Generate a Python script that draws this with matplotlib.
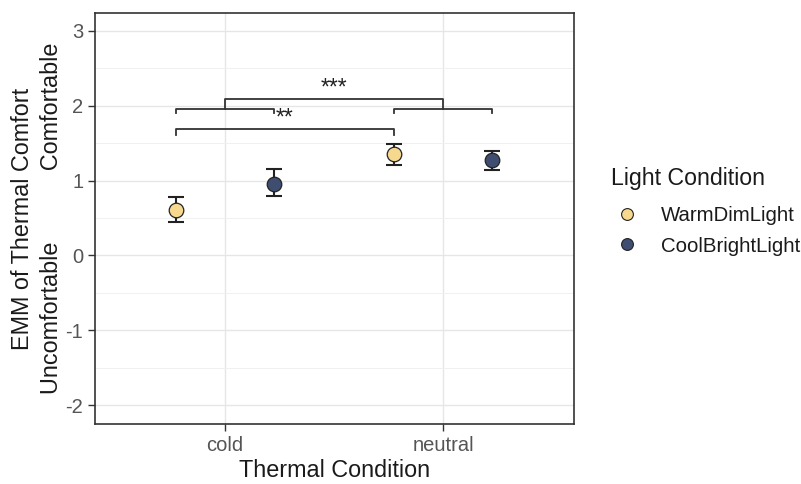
import matplotlib
matplotlib.use("Agg")
import matplotlib.pyplot as plt
from matplotlib.lines import Line2D
import numpy as np

plt.rcParams['font.family'] = ['Liberation Sans', 'DejaVu Sans']
plt.rcParams['axes.unicode_minus'] = False

# ---- data ----
categories = ["cold", "neutral"]
light_conditions = ["WarmDimLight", "CoolBrightLight"]
emm_warm = [0.61, 1.36]
lower_warm = [0.44, 1.21]
upper_warm = [0.78, 1.49]
emm_cool = [0.96, 1.27]
lower_cool = [0.80, 1.14]
upper_cool = [1.15, 1.40]
yticks = [-2, -1, 0, 1, 2, 3]

# significance brackets: (x_start, x_end, y_bar, y_tip, label)
sig_small_bars = [(0.775, 1.225, 1.96, 1.90), (1.775, 2.225, 1.96, 1.90)]
sig_top = (1.0, 2.0, 2.09, 1.96, "***")
sig_low = (0.775, 1.775, 1.69, 1.61, "**")

col_warm = "#F6D98E"
col_cool = "#3F4E70"

fig = plt.figure(figsize=(8.01, 4.84), dpi=100)
ax = fig.add_axes([95/801, 1 - 424/484, (574-95)/801, (424-13.5)/484])

x = np.arange(1, len(categories) + 1)
dodge = 0.225

for vals, lo, hi, col, off in [(emm_warm, lower_warm, upper_warm, col_warm, -dodge),
                               (emm_cool, lower_cool, upper_cool, col_cool, dodge)]:
    vals = np.array(vals); lo = np.array(lo); hi = np.array(hi)
    ax.errorbar(x + off, vals, yerr=[vals - lo, hi - vals], fmt='none',
                ecolor='#222222', elinewidth=1.5, capsize=5.6, capthick=1.5, zorder=3)
    ax.plot(x + off, vals, 'o', ms=10.5, mfc=col, mec='#222222', mew=0.9, zorder=4)

# brackets
bcol = '#333333'
for (x0, x1, yb, yt) in sig_small_bars:
    ax.plot([x0, x0, x1, x1], [yt, yb, yb, yt], color=bcol, lw=1.3, zorder=2)
for (x0, x1, yb, yt, lab) in [sig_top, sig_low]:
    ax.plot([x0, x0, x1, x1], [yt, yb, yb, yt], color=bcol, lw=1.3, zorder=2)
    ax.text((x0 + x1) / 2, yb + 0.05, lab, ha='center', va='baseline',
            fontsize=16.5, color='#222222')

ax.set_xlim(0.405, 2.60)
ax.set_ylim(-2.247, 3.227)
ax.set_xticks(x)
ax.set_xticklabels(categories)
ax.set_yticks(yticks)
ax.set_yticks(np.arange(-2, 3.01, 0.5), minor=True)
ax.tick_params(axis='x', which='minor', bottom=False)
ax.tick_params(axis='both', which='major', labelsize=14.5, labelcolor='#555555',
               color='#333333', length=5, width=1)
ax.tick_params(axis='y', which='minor', left=False)
ax.grid(True, which='major', color='#E6E6E6', lw=1.0, zorder=0)
ax.grid(True, which='minor', axis='y', color='#F0F0F0', lw=0.7, zorder=0)
ax.set_axisbelow(True)
for s in ax.spines.values():
    s.set_color('#333333')
    s.set_linewidth(1.2)

ax.set_xlabel("Thermal Condition", fontsize=16.8, color='#1a1a1a', labelpad=3)
ax.set_ylabel("EMM of Thermal Comfort\nUncomfortable           Comfortable",
              fontsize=16.8, color='#1a1a1a', linespacing=1.32, labelpad=2)

fig.text(611/801, 1 - 178/484, "Light Condition", fontsize=16.7, color='#1a1a1a',
         ha='left', va='center')
handles = [Line2D([0], [0], marker='o', ls='none', ms=8.5, mfc=col_warm, mec='#222222', mew=0.8),
           Line2D([0], [0], marker='o', ls='none', ms=8.5, mfc=col_cool, mec='#222222', mew=0.8)]
leg = fig.legend(handles, light_conditions, loc='center left',
                 bbox_to_anchor=(600/801, 1 - 231/484), frameon=False,
                 fontsize=14.7, handletextpad=1.1, labelspacing=0.55,
                 handlelength=1.2, borderpad=0.2)
for t in leg.get_texts():
    t.set_color('#1a1a1a')

fig.savefig("out.png", dpi=100)
